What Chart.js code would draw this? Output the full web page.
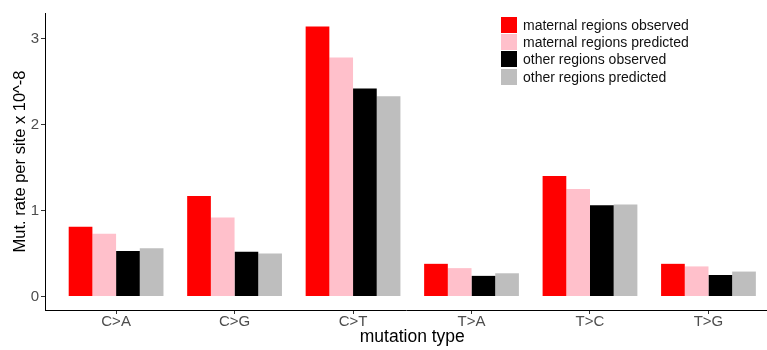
<!DOCTYPE html>
<html>
<head>
<meta charset="utf-8">
<title>Mutation rates by type</title>
<script src="https://cdn.jsdelivr.net/npm/chart.js@4/dist/chart.umd.min.js"></script>
<style>
    body { margin: 0; background: #fff; }
    #wrap { position: relative; width: 767px; height: 350px; overflow: hidden; }
    #legend {
        position: absolute; left: 501px; top: 16px;
        font-family: "Liberation Sans", Arial, sans-serif; font-size: 14px; color: #111;
    }
    .legend-row { display: flex; align-items: center; height: 17.3px; }
    .legend-box { width: 16px; height: 16px; margin-right: 6px; }
</style>
</head>
<body>
<div id="wrap">
    <canvas id="rateChart" width="767" height="350"></canvas>
    <div id="legend"></div>
</div>
<script>
const mutationTypes = ['C>A', 'C>G', 'C>T', 'T>A', 'T>C', 'T>G'];
const seriesNames = [
    'maternal regions observed',
    'maternal regions predicted',
    'other regions observed',
    'other regions predicted'
];
const maternalObserved = [0.81, 1.17, 3.14, 0.38, 1.40, 0.38];
const maternalPredicted = [0.73, 0.92, 2.78, 0.33, 1.25, 0.35];
const otherObserved = [0.53, 0.52, 2.42, 0.24, 1.06, 0.25];
const otherPredicted = [0.56, 0.50, 2.33, 0.27, 1.07, 0.29];
const yTickValues = [0, 1, 2, 3];

const seriesColors = ['#ff0000', '#ffc0cb', '#000000', '#bebebe'];
const font = '"Liberation Sans", Arial, sans-serif';

function toPoints(values) {
    return values.map((v, i) => ({ x: i, y: v }));
}

const datasets = [maternalObserved, maternalPredicted, otherObserved, otherPredicted].map((vals, k) => ({
    label: seriesNames[k],
    data: toPoints(vals),
    backgroundColor: seriesColors[k],
    borderWidth: 0,
    categoryPercentage: 0.8,
    barPercentage: 1.0
}));

// x axis title, centred under the middle of the category range
const xTitle = {
    id: 'xTitle',
    afterDraw(chart) {
        const x = chart.scales.x;
        const mid = (x.getPixelForValue(-0.6) + x.getPixelForValue(mutationTypes.length - 0.4)) / 2;
        const ctx = chart.ctx;
        ctx.save();
        ctx.font = `17.5px ${font}`;
        ctx.fillStyle = '#000';
        ctx.textAlign = 'center';
        ctx.textBaseline = 'middle';
        ctx.fillText('mutation type', mid, 337);
        ctx.restore();
    }
};

const chart = new Chart(document.getElementById('rateChart'), {
    type: 'bar',
    data: { datasets: datasets },
    plugins: [xTitle],
    options: {
        responsive: false,
        animation: false,
        layout: { padding: { top: 13, right: 0, bottom: 0, left: 0 } },
        plugins: {
            legend: { display: false },
            tooltip: { enabled: false }
        },
        scales: {
            x: {
                type: 'linear',
                offset: false,
                min: -0.6,
                max: 5.494,
                afterBuildTicks: (scale) => {
                    scale.ticks = mutationTypes.map((_, i) => ({ value: i }));
                },
                afterFit: (scale) => { scale.height = 40; },
                border: { display: true, color: '#000', width: 1 },
                grid: { offset: false, drawOnChartArea: false, drawTicks: true, tickLength: 4, color: '#333' },
                ticks: {
                    autoSkip: false,
                    maxRotation: 0,
                    padding: 0,
                    color: '#4d4d4d',
                    font: { family: font, size: 15, lineHeight: 1 },
                    callback: (v) => mutationTypes[v]
                }
            },
            y: {
                min: -0.157,
                max: 3.297,
                afterBuildTicks: (scale) => {
                    scale.ticks = yTickValues.map(v => ({ value: v }));
                },
                afterFit: (scale) => { scale.width = 45; },
                border: { display: true, color: '#000', width: 1 },
                grid: { drawOnChartArea: false, drawTicks: true, tickLength: 4, color: '#333' },
                ticks: {
                    padding: 2,
                    color: '#4d4d4d',
                    font: { family: font, size: 15 }
                },
                title: {
                    display: true,
                    text: 'Mut. rate per site x 10^-8',
                    color: '#000',
                    padding: { top: 11, bottom: 0 },
                    font: { family: font, size: 16.5 }
                }
            }
        }
    }
});

// Legend block in the upper right, built from the chart's datasets
const legendEl = document.getElementById('legend');
chart.data.datasets.forEach(ds => {
    const row = document.createElement('div');
    row.className = 'legend-row';
    row.innerHTML = `<span class="legend-box" style="background:${ds.backgroundColor}"></span><span>${ds.label}</span>`;
    legendEl.appendChild(row);
});
</script>
</body>
</html>
